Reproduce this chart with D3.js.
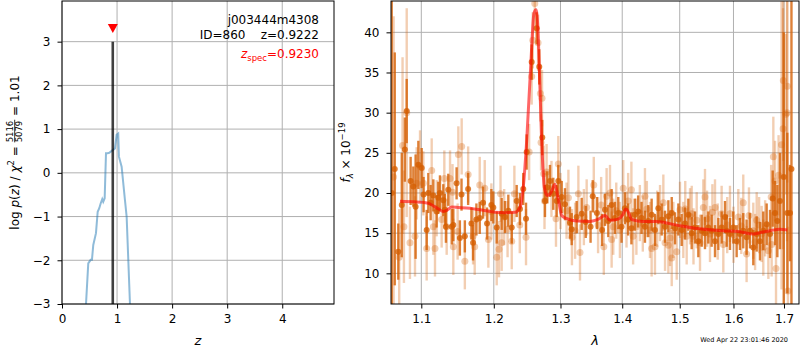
<!DOCTYPE html>
<html><head><meta charset="utf-8">
<script src="https://cdn.jsdelivr.net/npm/d3@7"></script>
<style>
body{margin:0;background:#fff}
svg{display:block}
text{font-family:"DejaVu Sans",sans-serif;fill:#000}
</style></head>
<body><svg id="c" width="800" height="350"></svg>
<script>
// ---------------- data ----------------
const pzZ = [0.40,0.436,0.477,0.520,0.544,0.568,0.617,0.648,0.677,0.702,0.731,0.749,0.775,0.799,0.829,0.858,0.920,0.962,0.992,1.021,1.034,1.083,1.143,1.174,1.234,1.26];
const pzLogP = [-3.8,-3.0,-2.07,-1.99,-1.99,-1.65,-1.38,-0.89,-0.81,-0.70,-0.60,-0.66,-0.58,0.45,0.45,0.46,0.52,0.56,0.87,0.90,0.37,0.14,-0.62,-1.0,-2.98,-3.6];
const zBest = 0.9222, zSpec = 0.9230, zBestPeak = 3.0, zSpecMarkY = 3.3;
const zTicks = [0,1,2,3,4];
const logpTicks = [-3,-2,-1,0,1,2,3];
const waveTicks = [1.1,1.2,1.3,1.4,1.5,1.6,1.7];
const fluxTicks = [10,15,20,25,30,35,40];

const waveDark = [1.0616,1.0655,1.0700,1.0745,1.0785,1.0809,1.0860,1.0895,1.0925,1.0961,
1.1005,1.1030,1.1071,1.1093,1.1124,1.1160,1.1204,1.1227,1.1249,1.1294,
1.1316,1.1330,1.1362,1.1409,1.1431,1.1476,1.1521,1.1544,1.1590,1.1636,
1.1682,1.1705,1.1752,1.1799,1.1846,1.1903,1.1965,1.1993,1.2042,1.2114,
1.2162,1.2211,1.2261,1.2334,1.2383,1.2432,1.2473,1.2483,1.2558,1.2634,
1.2673,1.2719,1.2760,1.2796,1.2837,1.2888,1.2941,1.2966,1.3019,1.3070,
1.3149,1.3176,1.3255,1.3335,1.3400,1.3478,1.3513,1.3581,1.3665,1.3713,
1.3768,1.3823,1.3878,1.3934,1.3989,1.4045,1.4100,1.4155,1.4212,1.4270,
1.4328,1.4387,1.4445,1.4503,1.4561,1.4620,1.4679,1.4738,1.4797,1.4857,
1.4916,1.4976,1.5035,1.5095,1.5156,1.5217,1.5278,1.5339,1.5401,1.5462,
1.5524,1.5586,1.5649,1.5712,1.5774,1.5838,1.5870,1.5933,1.5997,1.6061,
1.6125,1.6189,1.6254,1.6320,1.6385,1.6452,1.6517,1.6583,1.6650,1.6717,
1.6771,1.6818,1.6865,1.6918,1.6995,1.7068,1.7123,1.7153];
const fluxDark = [20.0,23.0,12.7,18.5,25.4,30.2,21.5,20.8,18.3,23.5,
23.1,19.8,15.4,20.0,18.8,19.7,17.7,19.4,20.0,19.1,
17.9,15.8,20.4,15.8,16.0,21.2,14.4,19.8,14.6,20.5,
16.2,13.8,16.7,16.9,18.8,16.2,18.5,18.2,15.7,17.4,
17.0,17.8,15.7,19.0,18.0,20.5,16.8,25.1,36.3,40.5,
35.7,26.9,19.0,20.7,21.5,19.9,19.0,21.5,19.5,18.6,
16.3,15.5,17.0,17.4,16.4,15.8,19.6,17.5,15.4,17.9,
16.5,18.5,16.9,17.5,15.8,18.1,16.7,15.6,17.3,17.7,
16.9,15.8,16.5,17.3,15.4,18.1,16.7,15.8,17.1,17.5,
15.6,16.7,15.4,16.2,17.3,15.0,15.7,14.0,15.3,15.0,
15.7,15.3,14.0,14.9,15.7,17.0,15.3,14.9,15.7,14.0,
14.9,15.3,14.5,15.3,13.2,14.9,14.0,15.3,16.1,14.9,
19.3,17.5,16.5,19.0,22.0,17.5,17.5,23.0];
const errDark = [30,14.5,3.5,6.5,4.0,4.0,3.0,2.5,6.5,3.0,
2.5,2.2,2.5,2.5,2.2,2.0,2.0,2.0,2.2,2.0,
2.0,2.0,2.0,2.2,2.0,2.0,2.2,2.0,2.0,2.0,
2.0,2.2,2.0,2.0,2.0,2.0,2.0,2.0,2.0,2.0,
2.0,2.0,2.0,2.0,2.0,2.0,2.0,2.2,2.2,2.0,
2.2,2.2,2.0,2.0,2.0,2.0,2.0,2.0,2.0,2.0,
2.0,2.0,2.0,2.0,2.0,2.0,2.0,2.0,2.0,2.0,
2.0,2.0,2.0,2.0,2.0,2.0,2.0,2.0,2.0,2.0,
2.0,2.0,2.0,2.0,2.0,2.0,2.0,2.0,2.0,2.0,
2.0,2.0,2.0,2.0,2.0,2.0,2.0,2.0,2.0,2.0,
2.0,2.0,2.0,2.0,2.0,2.0,2.0,2.0,2.0,2.0,
2.0,2.2,2.2,2.2,2.2,2.2,2.4,2.4,2.6,3.0,
3.5,4.0,4.5,6.0,18,10,6,22];

const waveLight = [1.0640,1.0712,1.0755,1.0773,1.0809,1.0851,1.0917,1.0939,1.0983,1.1027,
1.1071,1.1138,1.1160,1.1182,1.1205,1.1272,1.1308,1.1340,1.1386,1.1420,
1.1431,1.1490,1.1500,1.1546,1.1590,1.1636,1.1705,1.1728,1.1799,1.1870,
1.1922,1.1965,1.2042,1.2075,1.2097,1.2114,1.2261,1.2300,1.2473,1.2520,
1.2558,1.2575,1.2605,1.2655,1.2690,1.2700,1.2715,1.2740,1.2753,1.2785,
1.2930,1.2966,1.3095,1.3124,1.3230,1.3282,1.3308,1.3415,1.3530,1.3694,
1.3740,1.3796,1.3823,1.3850,1.3961,1.4017,1.4072,1.4155,1.4184,1.4299,
1.4387,1.4474,1.4503,1.4561,1.4650,1.4708,1.4738,1.4797,1.4827,1.4857,
1.4886,1.4946,1.5005,1.5065,1.5126,1.5187,1.5218,1.5309,1.5431,1.5462,
1.5555,1.5649,1.5774,1.5806,1.5933,1.6093,1.6189,1.6254,1.6385,1.6452,
1.6550,1.6583,1.6684,1.6740,1.6750,1.6784,1.6818,1.6838,1.6890,1.6950,
1.6980,1.6986,1.7040,1.7062,1.7068,1.7080,
1.2150,1.2200,1.2380,1.2860,1.3000,1.3180,1.3370,1.3600,1.3650,1.3900,
1.4100,1.4240,1.4350,1.4420,1.4600,1.5100,1.5250,1.5370,1.5500,1.5600,
1.5700,1.5880,1.6000,1.6150,1.6300,1.6420,1.6500,1.6620];
const fluxLight = [22.0,12.0,25.9,15.8,30.0,13.8,14.6,21.2,23.3,21.2,
13.1,22.8,15.8,13.1,18.1,16.7,21.8,15.8,21.8,20.1,
13.3,15.2,24.8,25.8,11.5,22.3,14.6,13.3,21.0,20.6,
14.2,17.7,12.0,13.0,19.9,13.8,14.0,19.9,14.5,25.1,
34.5,39.0,43.6,38.7,32.4,26.3,31.8,22.4,19.0,22.6,
16.8,23.6,17.8,19.4,15.3,19.9,12.6,18.2,21.0,13.3,
19.6,20.0,14.2,15.8,15.4,20.6,16.7,20.4,14.6,17.5,
19.6,15.4,13.1,13.3,17.5,18.8,13.8,13.5,14.4,11.9,
15.4,12.7,17.9,15.4,14.6,17.1,17.4,16.6,18.2,19.5,
14.9,18.2,17.4,13.6,17.4,17.0,18.8,12.4,15.3,16.6,
14.9,13.2,12.8,19.5,13.6,24.5,21.5,10.6,22.2,26.0,
28.0,34.0,29.8,30.0,33.3,7.8,
17.0,15.5,16.0,20.5,19.0,14.5,17.0,16.0,18.5,17.8,
19.0,15.8,16.2,18.0,16.8,18.0,14.6,13.8,16.8,17.6,
15.2,16.0,14.8,15.9,17.2,13.9,16.0,15.6];
const errLight = [20,6,11,7,13,4.5,5,4.5,4.5,4,
4,4,3.5,3.5,3.5,3.5,3.5,3.5,3.5,3.5,
3.5,3.5,3.5,3.5,3.5,3.5,3.5,3.5,3.5,3.5,
3.5,3.5,3.5,3.5,3.5,3.5,3.5,3.5,3.5,3.5,
3.5,3.5,3.5,3.5,3.5,3.5,3.5,3.5,3.5,3.5,
3.5,3.5,3.5,3.5,3.5,3.5,3.5,3.5,3.5,3.5,
3.5,3.5,3.5,3.5,3.5,3.5,3.5,3.5,3.5,3.5,
3.5,3.5,3.5,3.5,3.5,3.5,3.5,3.5,3.5,3.5,
3.5,3.5,3.5,3.5,3.5,3.5,3.5,3.5,3.5,3.5,
3.5,3.5,3.5,3.5,3.5,3.5,3.5,3.5,3.5,3.5,
3.5,3.5,3.5,4,4,5,5,5,5,18,
15,10,10,16,12,8,
3.5,3.5,3.5,3.5,3.5,3.5,3.5,3.5,3.5,3.5,
3.5,3.5,3.5,3.5,3.5,3.5,3.5,3.5,3.5,3.5,
3.5,3.5,3.5,3.5,3.5,3.5,3.5,3.5];

const modelWave = [1.0722,1.0900,1.1026,1.1100,1.1160,1.1230,1.1294,1.1350,1.1409,1.1500,
1.1662,1.1800,1.1950,1.2017,1.2150,1.2309,1.2383,1.2432,1.2483,1.2543,
1.2593,1.2624,1.2651,1.2673,1.2710,1.2750,1.2796,1.2850,1.2914,1.2960,
1.3019,1.3100,1.3255,1.3469,1.3600,1.3713,1.3796,1.3934,1.4000,1.4063,
1.4110,1.4160,1.4358,1.4591,1.4946,1.5278,1.5806,1.6100,1.6385,1.6550,
1.6717,1.6918,1.7068];
const modelFlux = [18.96,18.9,18.83,18.7,18.4,18.0,17.7,17.9,18.25,18.2,
18.1,17.9,17.7,17.6,17.55,17.6,18.2,20.7,26.5,35.7,
42.4,42.8,40.7,35.7,26.5,20.7,19.7,20.0,21.1,19.5,
17.2,16.8,16.5,16.46,16.7,17.2,16.6,16.75,17.2,18.0,
17.5,16.7,16.46,16.46,16.0,15.6,15.3,15.2,14.9,15.1,
15.3,15.5,15.4];

// ---------------- drawing ----------------
const svg = d3.select('#c');
const ORANGE = '#d55e00';
const GRID = '#b0b0b0';
const FS = 12;

function panel(id, box, xs, ys, xt, yt, xfmt, yfmt) {
  const defs = svg.append('defs');
  defs.append('clipPath').attr('id', id).append('rect')
    .attr('x', box.x0).attr('y', box.y0).attr('width', box.x1 - box.x0).attr('height', box.y1 - box.y0);
  const g = svg.append('g');
  g.selectAll('.gx').data(xt).enter().append('line')
    .attr('x1', d => xs(d)).attr('x2', d => xs(d)).attr('y1', box.y0).attr('y2', box.y1)
    .attr('stroke', GRID).attr('stroke-width', 1);
  g.selectAll('.gy').data(yt).enter().append('line')
    .attr('y1', d => ys(d)).attr('y2', d => ys(d)).attr('x1', box.x0).attr('x2', box.x1)
    .attr('stroke', GRID).attr('stroke-width', 1);
  const content = svg.append('g').attr('clip-path', `url(#${id})`);
  const ax = svg.append('g').attr('transform', `translate(0,${box.y1})`)
    .call(d3.axisBottom(xs).tickValues(xt).tickFormat(xfmt).tickSize(4.5).tickPadding(6));
  const ay = svg.append('g').attr('transform', `translate(${box.x0},0)`)
    .call(d3.axisLeft(ys).tickValues(yt).tickFormat(yfmt).tickSize(4.5).tickPadding(7));
  [ax, ay].forEach(a => {
    a.select('.domain').remove();
    a.selectAll('text').attr('font-size', FS).attr('font-family', 'DejaVu Sans').attr('fill', '#000');
    a.selectAll('line').attr('stroke', '#000');
  });
  return {content, spine: () => svg.append('rect')
    .attr('x', box.x0).attr('y', box.y0).attr('width', box.x1 - box.x0).attr('height', box.y1 - box.y0)
    .attr('fill', 'none').attr('stroke', '#000').attr('stroke-width', 1)};
}

// ---- left panel ----
const LB = {x0: 62, x1: 334, y0: 1, y1: 304};
const xz = d3.scaleLinear().domain([0, 4.94]).range([LB.x0, LB.x1]);
const yp = d3.scaleLinear().domain([-3, 3.93]).range([LB.y1, LB.y0]);
const fmtInt = d => d3.format('d')(d);
const lp = panel('clipL', LB, xz, yp, zTicks, logpTicks, fmtInt, fmtInt);
lp.content.append('path')
  .datum(pzZ.map((z, i) => [z, pzLogP[i]]))
  .attr('d', d3.line().x(d => xz(d[0])).y(d => yp(d[1])))
  .attr('fill', 'none').attr('stroke', '#1f77b4').attr('stroke-opacity', 0.5).attr('stroke-width', 2);
lp.content.append('line')
  .attr('x1', xz(zBest)).attr('x2', xz(zBest)).attr('y1', yp(-3)).attr('y2', yp(zBestPeak))
  .attr('stroke', '#000').attr('stroke-opacity', 0.75).attr('stroke-width', 2.6);
{
  const cx = xz(zSpec), cy = yp(zSpecMarkY);
  lp.content.append('path')
    .attr('d', `M${cx - 5},${cy - 4.5}L${cx + 5},${cy - 4.5}L${cx},${cy + 4.5}Z`)
    .attr('fill', 'red');
}
lp.spine();

const tx = 319;
svg.append('text').attr('x', tx).attr('y', 24).attr('text-anchor', 'end').attr('font-size', FS).text('j003444m4308');
svg.append('text').attr('x', tx).attr('y', 39).attr('text-anchor', 'end').attr('font-size', FS)
  .style('white-space', 'pre').text('ID=860    z=0.9222');
{
  const t = svg.append('text').attr('x', tx).attr('y', 58).attr('text-anchor', 'end').attr('font-size', FS).style('fill', 'red');
  t.append('tspan').attr('font-style', 'italic').text('z');
  t.append('tspan').attr('font-size', 8.5).attr('dy', 2.5).text('spec');
  t.append('tspan').attr('dy', -2.5).text('=0.9230');
}
svg.append('text').attr('x', (LB.x0 + LB.x1) / 2).attr('y', 345).attr('text-anchor', 'middle')
  .attr('font-size', FS + 1).attr('font-style', 'italic').text('z');

{
  const g = svg.append('g').attr('transform', `translate(19,${(LB.y0 + LB.y1) / 2}) rotate(-90)`);
  const inner = g.append('g');
  let cx = 0;
  function piece(str, opt = {}) {
    const t = inner.append('text').attr('x', cx).attr('y', opt.y || 0)
      .attr('font-size', opt.fs || FS).style('white-space', 'pre').text(str);
    if (opt.it) t.attr('font-style', 'italic');
    const w = t.node().getComputedTextLength();
    if (!opt.noadv) cx += w;
    return w;
  }
  piece('log ');
  piece('p', {it: 1});
  piece('(');
  piece('z', {it: 1});
  piece(') / ');
  piece('χ', {it: 1});
  piece('2', {fs: 8.5, y: -5});
  piece(' = ');
  const x0 = cx;
  const wn = piece('5116', {fs: 8.5, y: -6, noadv: 1});
  const t2 = inner.append('text').attr('x', x0).attr('y', 3).attr('font-size', 8.5).text('5079');
  const wd = t2.node().getComputedTextLength();
  const wf = Math.max(wn, wd) + 1;
  inner.append('line').attr('x1', x0).attr('x2', x0 + wf).attr('y1', -4.3).attr('y2', -4.3)
    .attr('stroke', '#000').attr('stroke-width', 0.8);
  cx += wf;
  piece(' = 1.01');
  inner.attr('transform', `translate(${-cx / 2},0)`);
}

// ---- right panel ----
const RB = {x0: 391, x1: 799, y0: 1, y1: 304};
const xw = d3.scaleLog().domain([1.0607, 1.7309]).range([RB.x0, RB.x1]);
const yf = d3.scaleLinear().domain([6.18, 43.9]).range([RB.y1, RB.y0]);
const rp = panel('clipR', RB, xw, yf, waveTicks, fluxTicks, d3.format('.1f'), d3.format('d'));

function errSeries(wave, flux, err, alpha, r) {
  const data = wave.map((w, i) => ({w, f: flux[i], e: err[i]}));
  const g = rp.content.append('g');
  g.selectAll('line').data(data).enter().append('line')
    .attr('x1', d => xw(d.w)).attr('x2', d => xw(d.w))
    .attr('y1', d => yf(d.f - d.e)).attr('y2', d => yf(d.f + d.e))
    .attr('stroke', ORANGE).attr('stroke-opacity', alpha).attr('stroke-width', 2.4);
  g.selectAll('circle').data(data).enter().append('circle')
    .attr('cx', d => xw(d.w)).attr('cy', d => yf(d.f)).attr('r', r)
    .attr('fill', ORANGE).attr('fill-opacity', alpha);
}
errSeries(waveLight, fluxLight, errLight, 0.3, 3.5);
errSeries(waveDark, fluxDark, errDark, 0.78, 3);
rp.content.append('path')
  .datum(modelWave.map((w, i) => [w, modelFlux[i]]))
  .attr('d', d3.line().x(d => xw(d[0])).y(d => yf(d[1])).curve(d3.curveMonotoneX))
  .attr('fill', 'none').attr('stroke', 'red').attr('stroke-opacity', 0.6).attr('stroke-width', 3);
rp.spine();

svg.append('text').attr('x', (RB.x0 + RB.x1) / 2).attr('y', 345).attr('text-anchor', 'middle')
  .attr('font-size', FS + 1).attr('font-style', 'italic').text('λ');
{
  const t = svg.append('text').attr('transform', `translate(350,${(RB.y0 + RB.y1) / 2}) rotate(-90)`)
    .attr('text-anchor', 'middle').attr('font-size', FS);
  t.append('tspan').attr('font-style', 'italic').text('f');
  t.append('tspan').attr('font-size', 8.5).attr('font-style', 'italic').attr('dy', 3).text('λ');
  t.append('tspan').attr('dy', -3).text(' × 10');
  t.append('tspan').attr('font-size', 8.5).attr('dy', -5).text('−19');
}
svg.append('text').attr('x', 788).attr('y', 342).attr('text-anchor', 'end').attr('font-size', 6.5)
  .text('Wed Apr 22 23:01:46 2020');
</script></body></html>
